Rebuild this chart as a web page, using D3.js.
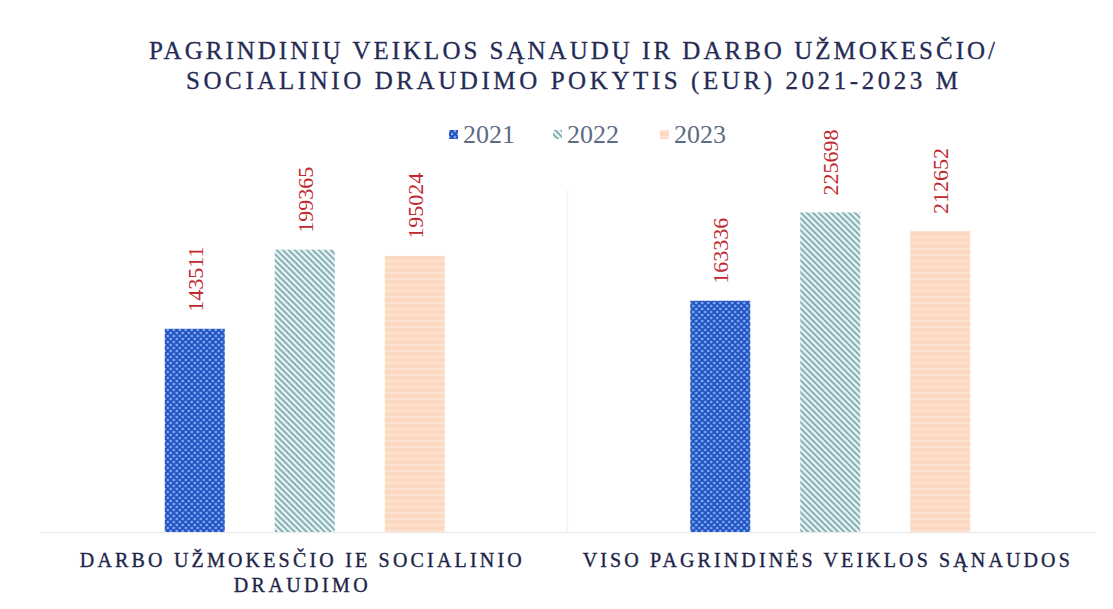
<!DOCTYPE html>
<html><head><meta charset="utf-8">
<script src="https://cdn.jsdelivr.net/npm/d3@7"></script>
<style>body{margin:0;background:#fff}svg{display:block}</style>
</head><body>
<svg id="c" width="1113" height="609"></svg>
<script>
const titleLines = ["PAGRINDINIŲ VEIKLOS SĄNAUDŲ IR DARBO UŽMOKESČIO/", "SOCIALINIO DRAUDIMO POKYTIS (EUR) 2021-2023 M"];
const categories = ["DARBO UŽMOKESČIO IE SOCIALINIO DRAUDIMO", "VISO PAGRINDINĖS VEIKLOS SĄNAUDOS"];
const categoryLines = [["DARBO UŽMOKESČIO IE SOCIALINIO", "DRAUDIMO"], ["VISO PAGRINDINĖS VEIKLOS SĄNAUDOS"]];
const years = ["2021", "2022", "2023"];
const values2021 = [143511, 163336];
const values2022 = [199365, 225698];
const values2023 = [195024, 212652];

const seriesVals = {"2021": values2021, "2022": values2022, "2023": values2023};
const svg = d3.select("#c");
const defs = svg.append("defs");

// patterns
const p1 = defs.append("pattern").attr("id","p2021").attr("patternUnits","userSpaceOnUse").attr("width",6).attr("height",6);
p1.append("rect").attr("width",6).attr("height",6).attr("fill","#7fb0f2");
p1.append("path").attr("d","M0,0L6,6M6,0L0,6").attr("stroke","#1f4cc0").attr("stroke-width",1.8);
const p2 = defs.append("pattern").attr("id","p2022").attr("patternUnits","userSpaceOnUse").attr("width",6).attr("height",6);
p2.append("rect").attr("width",6).attr("height",6).attr("fill","#e6f2f3");
p2.append("path").attr("d","M-1,-1L7,7M-4,2L2,8M4,-2L8,2").attr("stroke","#78a6ac").attr("stroke-width",1.6);
const p3 = defs.append("pattern").attr("id","p2023").attr("patternUnits","userSpaceOnUse").attr("width",6).attr("height",6);
p3.append("rect").attr("width",6).attr("height",6).attr("fill","#fdd9c2");
p3.append("path").attr("d","M0,3L6,3").attr("stroke","#fbe8dc").attr("stroke-width",1.2);
const fills = {"2021":"url(#p2021)","2022":"url(#p2022)","2023":"url(#p2023)"};

// title
svg.selectAll("text.title").data(titleLines).join("text")
  .attr("class","title")
  .attr("x",572).attr("y",(d,i)=>59+i*30)
  .attr("text-anchor","middle")
  .attr("font-family","'Liberation Serif', serif")
  .attr("font-size",25)
  .attr("fill","#262b55").attr("stroke","#262b55").attr("stroke-width",0.3)
  .attr("textLength",(d,i)=>i===0?846:772).attr("lengthAdjust","spacing")
  .text(d=>d);

// scales
const x0 = d3.scaleBand().domain(categories).range([42,1093]).padding(0);
const x1 = d3.scaleBand().domain(years).range([0,280]).paddingInner(0.4545).paddingOuter(0);
const y = d3.scaleLinear().domain([0,250000]).range([532,178]);

// baseline and divider
svg.append("line").attr("x1",40).attr("x2",1095).attr("y1",y(0)+0.5).attr("y2",y(0)+0.5)
  .attr("stroke","#ececec").attr("stroke-width",1.5);
svg.append("line").attr("x1",x0.range()[0]+x0.bandwidth()).attr("x2",x0.range()[0]+x0.bandwidth())
  .attr("y1",190).attr("y2",y(0)).attr("stroke","#f3f3f3").attr("stroke-width",1.5);

const groups = svg.selectAll("g.cat").data(categories).join("g")
  .attr("class","cat")
  .attr("transform",d=>`translate(${x0(d)+x0.bandwidth()/2-140},0)`);

groups.each(function(cat, ci){
  const g = d3.select(this);
  const data = years.map(yr=>({yr, v: seriesVals[yr][ci]}));
  g.selectAll("rect").data(data).join("rect")
    .attr("x",d=>x1(d.yr)).attr("width",x1.bandwidth())
    .attr("y",d=>y(d.v)).attr("height",d=>y(0)-y(d.v))
    .attr("fill",d=>fills[d.yr]);
  g.selectAll("text.val").data(data).join("text")
    .attr("class","val")
    .attr("transform",d=>`translate(${x1(d.yr)+x1.bandwidth()/2+8},${y(d.v)-17}) rotate(-90)`)
    .attr("font-family","'Liberation Serif', serif")
    .attr("font-size",22).attr("fill","#c0282d")
    .text(d=>d.v);
});

// category labels
categories.forEach((cat,ci)=>{
  const cx = x0(cat)+x0.bandwidth()/2 - 4;
  const lens = ci===0 ? [442, 134] : [487];
  categoryLines[ci].forEach((ln,li)=>{
    svg.append("text").attr("x",cx).attr("y",567+li*25)
      .attr("text-anchor","middle")
      .attr("font-family","'Liberation Serif', serif")
      .attr("font-size",20).attr("fill","#1e2548").attr("stroke","#1e2548").attr("stroke-width",0.35)
      .attr("textLength",lens[li]).attr("lengthAdjust","spacing")
      .text(ln);
  });
});

// legend
const legX = [449, 553, 660];
const leg = svg.selectAll("g.leg").data(years).join("g").attr("class","leg")
  .attr("transform",(d,i)=>`translate(${legX[i]},134)`);
leg.append("rect").attr("x",0).attr("y",-4).attr("width",9).attr("height",9).attr("fill",d=>fills[d]);
leg.append("text").attr("x",14).attr("y",9)
  .attr("font-family","'Liberation Serif', serif").attr("font-size",26)
  .attr("fill","#5d6b85").text(d=>d);
</script>
</body></html>
